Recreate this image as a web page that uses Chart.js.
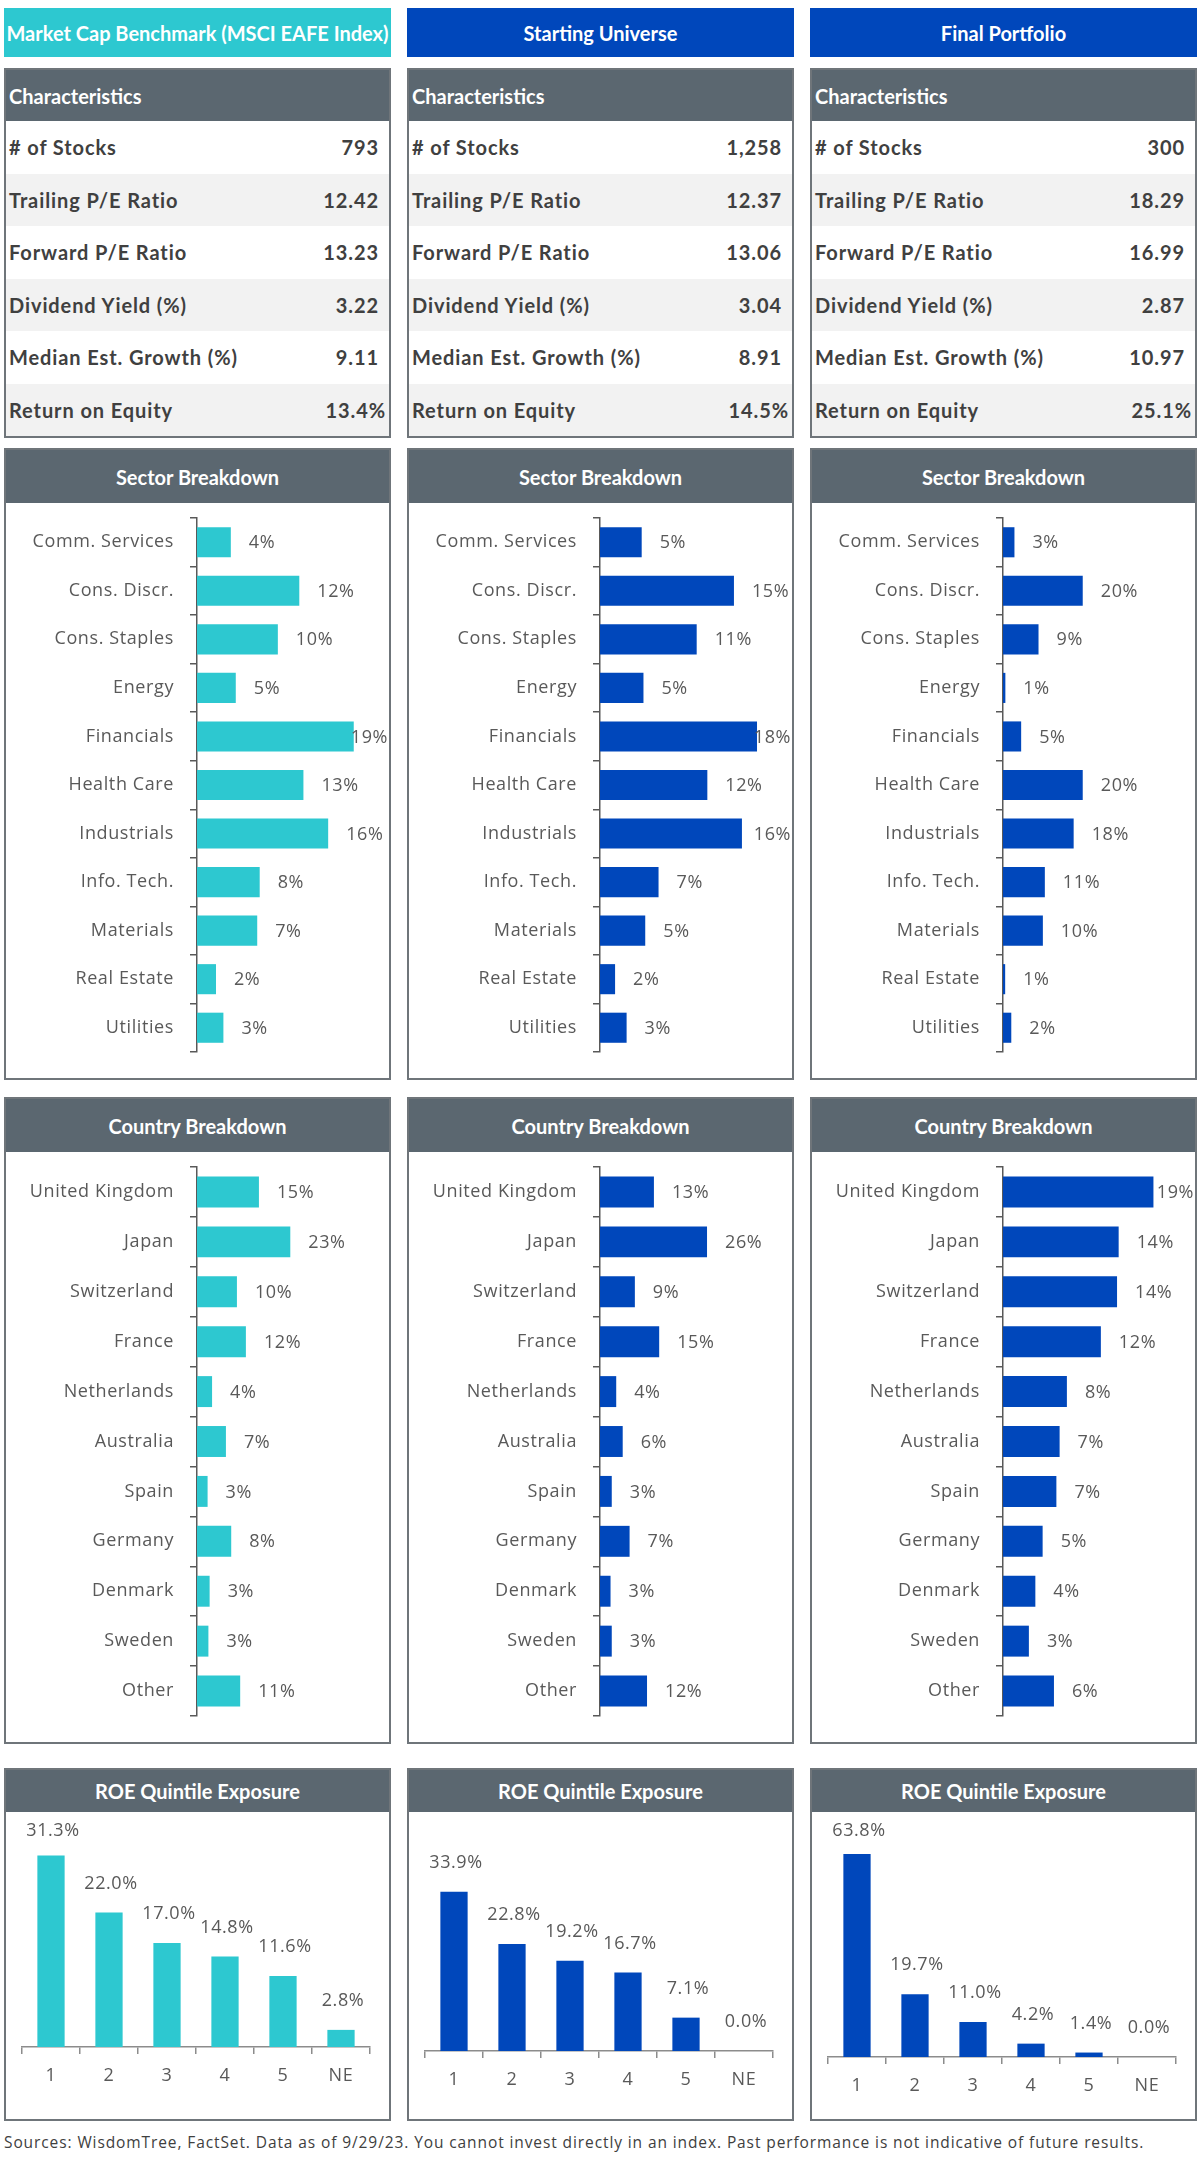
<!DOCTYPE html>
<html>
<head>
<meta charset="utf-8">
<script src="https://cdn.jsdelivr.net/npm/chart.js@4.4.1/dist/chart.umd.min.js"></script>
<style>
  html, body { margin: 0; padding: 0; background: #fff; }
  body { width: 1200px; height: 2162px; position: relative; overflow: hidden; font-family: "Lato", "Open Sans", sans-serif; }
  .box { position: absolute; box-sizing: border-box; }
  .title { height: 49px; color: #fff; font-weight: 700; font-size: 20px; display: flex; align-items: center; justify-content: center; white-space: nowrap; }
  .panel { border: 2px solid #6f757a; background: #fff; }
  .head { background: #5b6770; color: #fff; font-weight: 700; font-size: 20px; display: flex; align-items: center; justify-content: center; white-space: nowrap; }
  .head.left { justify-content: flex-start; padding-left: 3px; }
  .row { height: 52.5px; display: flex; align-items: center; justify-content: space-between; padding: 0 10px 0 3px; font-weight: 700; font-size: 20px; color: #404040; letter-spacing: 0.9px; }
  .row:nth-child(even) { background: #f2f2f2; }
  .row.pct { padding-right: 3px; }
  .chart { position: relative; }
  .foot { position: absolute; left: 4px; top: 2131px; font-family: "Open Sans", sans-serif; font-size: 15.5px; letter-spacing: 0.9px; color: #404040; white-space: nowrap; }
</style>
</head>
<body>
<script>
// ---- data ----
const columnTitles = ["Market Cap Benchmark (MSCI EAFE Index)", "Starting Universe", "Final Portfolio"];

const charNames = ["# of Stocks", "Trailing P/E Ratio", "Forward P/E Ratio", "Dividend Yield (%)", "Median Est. Growth (%)", "Return on Equity"];
const benchChars = ["793", "12.42", "13.23", "3.22", "9.11", "13.4%"];
const universeChars = ["1,258", "12.37", "13.06", "3.04", "8.91", "14.5%"];
const portfolioChars = ["300", "18.29", "16.99", "2.87", "10.97", "25.1%"];

const sectorNames = ["Comm. Services", "Cons. Discr.", "Cons. Staples", "Energy", "Financials", "Health Care", "Industrials", "Info. Tech.", "Materials", "Real Estate", "Utilities"];
const benchSector = [4.1, 12.4, 9.8, 4.7, 19.0, 12.9, 15.9, 7.6, 7.3, 2.3, 3.2];
const universeSector = [4.7, 15.1, 10.9, 4.9, 17.7, 12.1, 16.0, 6.6, 5.1, 1.7, 3.0];
const portfolioSector = [2.9, 20.2, 9.0, 0.6, 4.6, 20.2, 17.9, 10.6, 10.1, 0.55, 2.1];

const countryNames = ["United Kingdom", "Japan", "Switzerland", "France", "Netherlands", "Australia", "Spain", "Germany", "Denmark", "Sweden", "Other"];
const benchCountry = [15.2, 22.9, 9.8, 12.0, 3.7, 7.1, 2.6, 8.4, 3.1, 2.8, 10.6];
const universeCountry = [13.3, 26.4, 8.6, 14.6, 4.0, 5.6, 2.9, 7.3, 2.6, 2.9, 11.6];
const portfolioCountry = [18.6, 14.3, 14.1, 12.1, 7.9, 7.0, 6.6, 4.9, 4.0, 3.2, 6.3];

const roeBuckets = ["1", "2", "3", "4", "5", "NE"];
const benchRoe = [31.3, 22.0, 17.0, 14.8, 11.6, 2.8];
const universeRoe = [33.9, 22.8, 19.2, 16.7, 7.1, 0.0];
const portfolioRoe = [63.8, 19.7, 11.0, 4.2, 1.4, 0.0];

const footnote = "Sources: WisdomTree, FactSet. Data as of 9/29/23. You cannot invest directly in an index. Past performance is not indicative of future results.";

// ---- layout / style ----
const TEAL = "#2dc8d0";
const BLUE = "#0047bb";
const colLeft = [4, 407, 810];
const colWidth = 387;
const sectorMax = [20, 18.6, 41.8];
const countryMax = [40.5, 40.7, 20.4];
const roeMax = [35, 46.4, 70.4];
const roeBottomPad = [32, 28, 22];
const LABEL_FONT = { family: "Open Sans", size: 18 };
const SPACING = "0.6px";

const columns = [
    { title: columnTitles[0], color: TEAL, chars: benchChars, sector: benchSector, country: benchCountry, roe: benchRoe },
    { title: columnTitles[1], color: BLUE, chars: universeChars, sector: universeSector, country: universeCountry, roe: universeRoe },
    { title: columnTitles[2], color: BLUE, chars: portfolioChars, sector: portfolioSector, country: portfolioCountry, roe: portfolioRoe },
];

// canvas letter spacing (state is reset when the canvas is resized)
const spacingPlugin = {
    id: "spacing",
    beforeLayout(chart) { chart.ctx.letterSpacing = SPACING; },
    beforeDraw(chart) { chart.ctx.letterSpacing = SPACING; },
};

// value labels next to / above bars
const valueLabels = {
    id: "valueLabels",
    afterDatasetsDraw(chart) {
        const ctx = chart.ctx;
        const values = chart.data.datasets[0].data;
        const horizontal = chart.options.indexAxis === "y";
        ctx.save();
        ctx.letterSpacing = SPACING;
        ctx.font = `${LABEL_FONT.size}px "${LABEL_FONT.family}"`;
        ctx.fillStyle = "#595959";
        ctx.textBaseline = "middle";
        chart.getDatasetMeta(0).data.forEach((bar, i) => {
            if (horizontal) {
                const text = Math.round(values[i]) + "%";
                const w = ctx.measureText(text).width;
                ctx.textAlign = "left";
                ctx.fillText(text, Math.min(bar.x + 18, chart.width - 1 - w), bar.y + 1);
            } else {
                const text = values[i].toFixed(1) + "%";
                ctx.textAlign = "center";
                ctx.fillText(text, bar.x + 2, Math.max(bar.y - 29, 19));
            }
        });
        ctx.restore();
    },
};

function el(cls, style, text) {
    const d = document.createElement("div");
    d.className = cls;
    if (style) Object.assign(d.style, style);
    if (text !== undefined) d.textContent = text;
    document.body.appendChild(d);
    return d;
}

function panel(left, top, height, headText, headHeight) {
    const p = el("box panel", { left: left + "px", top: top + "px", width: colWidth + "px", height: height + "px" });
    const h = document.createElement("div");
    h.className = "head";
    h.style.height = headHeight + "px";
    h.textContent = headText;
    p.appendChild(h);
    const c = document.createElement("div");
    c.className = "chart";
    c.style.height = (height - 4 - headHeight) + "px";
    const canvas = document.createElement("canvas");
    c.appendChild(canvas);
    p.appendChild(c);
    return canvas;
}

function horizontalChart(canvas, labels, values, color, max) {
    return new Chart(canvas.getContext("2d"), {
        type: "bar",
        data: {
            labels,
            datasets: [{ data: values, backgroundColor: color, barPercentage: 0.62, categoryPercentage: 1 }],
        },
        options: {
            indexAxis: "y",
            responsive: true,
            maintainAspectRatio: false,
            animation: false,
            layout: { padding: { top: 15, bottom: 26, left: 0, right: colWidth - 4 - 191 - 165 } },
            plugins: { legend: { display: false }, tooltip: { enabled: false } },
            scales: {
                x: { display: false, min: 0, max },
                y: {
                    grid: { offset: true, drawOnChartArea: false, tickLength: 7, color: "#595959", lineWidth: 1.5 },
                    border: { display: true, color: "#595959", width: 1.5 },
                    ticks: { color: "#595959", font: LABEL_FONT, padding: 16, autoSkip: false },
                    afterFit(scale) {
                        scale.width = 191;
                        scale.paddingTop = 0;
                        scale.paddingBottom = 0;
                    },
                },
            },
        },
        plugins: [spacingPlugin, valueLabels],
    });
}

function roeChart(canvas, values, color, max, bottomPad) {
    return new Chart(canvas.getContext("2d"), {
        type: "bar",
        data: {
            labels: roeBuckets,
            datasets: [{ data: values, backgroundColor: color, barPercentage: 0.47, categoryPercentage: 1 }],
        },
        options: {
            responsive: true,
            maintainAspectRatio: false,
            animation: false,
            layout: { padding: { top: 21, bottom: bottomPad, left: 16, right: 19 } },
            plugins: { legend: { display: false }, tooltip: { enabled: false } },
            scales: {
                y: { display: false, min: 0, max },
                x: {
                    grid: { offset: true, drawOnChartArea: false, tickLength: 7, color: "#8c8c8c", lineWidth: 1.5 },
                    border: { display: true, color: "#8c8c8c", width: 1.5 },
                    ticks: { color: "#595959", font: LABEL_FONT, padding: 11, maxRotation: 0 },
                    afterFit(scale) {
                        scale.height = 40;
                        scale.paddingLeft = 0;
                        scale.paddingRight = 0;
                    },
                },
            },
        },
        plugins: [spacingPlugin, valueLabels],
    });
}

columns.forEach((col, i) => {
    const left = colLeft[i];

    // column title
    el("box title", { left: left + "px", top: "8px", width: colWidth + "px", background: col.color }, col.title);

    // characteristics table
    const t = el("box panel", { left: left + "px", top: "68px", width: colWidth + "px", height: "370px" });
    const th = document.createElement("div");
    th.className = "head left";
    th.style.height = "51px";
    th.textContent = "Characteristics";
    t.appendChild(th);
    const rows = document.createElement("div");
    t.appendChild(rows);
    charNames.forEach((name, r) => {
        const row = document.createElement("div");
        row.className = "row" + (col.chars[r].endsWith("%") ? " pct" : "");
        const a = document.createElement("span");
        a.textContent = name;
        const b = document.createElement("span");
        b.textContent = col.chars[r];
        row.appendChild(a);
        row.appendChild(b);
        rows.appendChild(row);
    });

    horizontalChart(panel(left, 448, 632, "Sector Breakdown", 53), sectorNames, col.sector, col.color, sectorMax[i]);
    horizontalChart(panel(left, 1097, 647, "Country Breakdown", 53), countryNames, col.country, col.color, countryMax[i]);
    roeChart(panel(left, 1768, 353, "ROE Quintile Exposure", 42), col.roe, col.color, roeMax[i], roeBottomPad[i]);
});

el("foot", null, footnote);
</script>
</body>
</html>
